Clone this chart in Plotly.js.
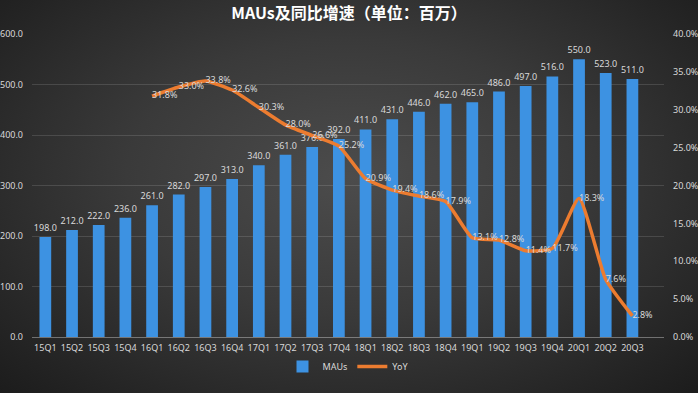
<!DOCTYPE html>
<html>
<head>
<meta charset="utf-8">
<script src="https://cdn.plot.ly/plotly-3.0.1.min.js"></script>
<style>
html,body{margin:0;padding:0;}
#chart{width:698px;height:393px;background:radial-gradient(ellipse at 50% 45%, #4c4c4c 0%, #3a3a3a 45%, #242424 85%, #1c1c1c 100%);}
</style>
</head>
<body>
<div id="chart"></div>
<script>
const quarters = ["15Q1","15Q2","15Q3","15Q4","16Q1","16Q2","16Q3","16Q4","17Q1","17Q2","17Q3","17Q4","18Q1","18Q2","18Q3","18Q4","19Q1","19Q2","19Q3","19Q4","20Q1","20Q2","20Q3"];
const maus = [198,212,222,236,261,282,297,313,340,361,376,392,411,431,446,462,465,486,497,516,550,523,511];
const yoyQuarters = ["16Q1","16Q2","16Q3","16Q4","17Q1","17Q2","17Q3","17Q4","18Q1","18Q2","18Q3","18Q4","19Q1","19Q2","19Q3","19Q4","20Q1","20Q2","20Q3"];
const yoy = [31.8,33.0,33.8,32.6,30.3,28.0,26.6,25.2,20.9,19.4,18.6,17.9,13.1,12.8,11.4,11.7,18.3,7.6,2.8];
const leftTicks = [0,100,200,300,400,500,600];
const rightTicks = [0,5,10,15,20,25,30,35,40];

const labelFont = {family: "Noto Sans, DejaVu Sans, sans-serif", size: 9, color: "#d9d9d9"};

const traces = [
  {
    type: "bar", name: "MAUs", x: quarters, y: maus,
    marker: {color: "#3d92e2", line: {width: 0}},
    text: maus.map(v => v.toFixed(1)), textposition: "outside", constraintext: "none",
    textfont: labelFont, cliponaxis: false, hoverinfo: "x+y"
  },
  {
    type: "scatter", mode: "lines+text", name: "YoY", x: yoyQuarters, y: yoy, yaxis: "y2",
    line: {color: "#ec7c30", width: 3.5, shape: "spline", smoothing: 0.5},
    text: yoy.map(v => v.toFixed(1) + "%"), textposition: "middle right",
    textfont: labelFont, cliponaxis: false
  }
];

const layout = {
  width: 698, height: 393,
  paper_bgcolor: "rgba(0,0,0,0)", plot_bgcolor: "rgba(0,0,0,0)",
  margin: {l: 32, r: 34, t: 34, b: 37},
  title: {text: "<b>MAUs及同比增速（单位：百万）</b>", x: 0.5, xanchor: "center", y: 0.965, yanchor: "middle",
          font: {family: "Noto Sans CJK SC, sans-serif", size: 16, color: "#ffffff"}},
  bargap: 0.56,
  showlegend: true,
  legend: {orientation: "h", x: 0.5, xanchor: "center", y: -0.097, yanchor: "middle",
           font: labelFont, bgcolor: "rgba(0,0,0,0)", itemwidth: 30, tracegroupgap: 0},
  xaxis: {type: "category", categoryarray: quarters, categoryorder: "array",
          showgrid: false, zeroline: false, showline: false, ticks: "",
          tickfont: {family: "Noto Sans, DejaVu Sans, sans-serif", size: 9, color: "#d9d9d9"},
          ticklabelstandoff: 4, fixedrange: true},
  yaxis: {range: [0, 600], tickvals: leftTicks, ticktext: leftTicks.map(v => v.toFixed(1)),
          showgrid: true, gridcolor: "rgba(255,255,255,0.13)", gridwidth: 1,
          zeroline: true, zerolinecolor: "rgba(255,255,255,0.35)", zerolinewidth: 1,
          showline: false, ticks: "",
          tickfont: {family: "Noto Sans, DejaVu Sans, sans-serif", size: 9, color: "#d9d9d9"},
          ticklabelstandoff: 8},
  yaxis2: {range: [0, 40], overlaying: "y", side: "right", tickvals: rightTicks,
           ticktext: rightTicks.map(v => v.toFixed(1) + "%"),
           showgrid: false, zeroline: false, showline: false, ticks: "",
           tickfont: {family: "Noto Sans, DejaVu Sans, sans-serif", size: 9, color: "#d9d9d9"},
           ticklabelstandoff: 8}
};

Plotly.newPlot("chart", traces, layout, {displayModeBar: false, staticPlot: true});
</script>
</body>
</html>
